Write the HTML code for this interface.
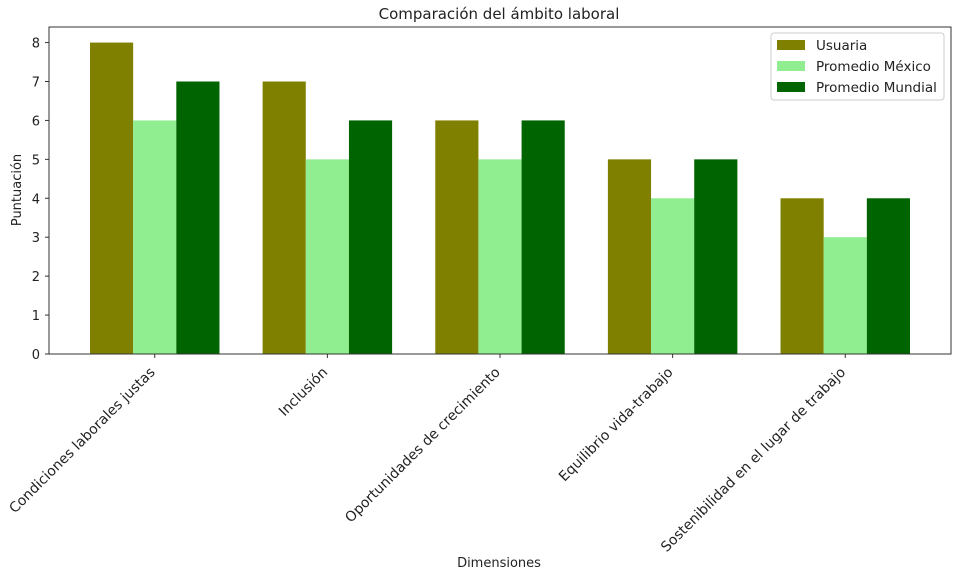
<!DOCTYPE html>
<html><head><meta charset="utf-8"><style>
body{margin:0;background:#fff;font-family:"DejaVu Sans","Liberation Sans",sans-serif;}
svg text{font-family:"DejaVu Sans","Liberation Sans",sans-serif;fill:#222;}
</style></head><body>
<svg id="c" width="956" height="570">
<text x="499" y="19" font-size="15" text-anchor="middle">Comparación del ámbito laboral</text>
<text x="499" y="567" font-size="13" text-anchor="middle">Dimensiones</text>
<text transform="translate(21,190) rotate(-90)" font-size="13" text-anchor="middle">Puntuación</text>
<g id="bars"></g><g id="axes"></g>
<g>
<rect x="771" y="33" width="173" height="67" fill="#fff" stroke="#ccc" rx="3"/>
<rect x="777" y="40" width="28" height="10" fill="#808000"/>
<text x="816" y="50" font-size="13.5">Usuaria</text>
<rect x="777" y="61" width="28" height="10" fill="#90ee90"/>
<text x="816" y="71" font-size="13.5">Promedio México</text>
<rect x="777" y="82" width="28" height="10" fill="#006400"/>
<text x="816" y="92" font-size="13.5">Promedio Mundial</text>
</g>
</svg>
<script>
const categories=["Condiciones laborales justas","Inclusión","Oportunidades de crecimiento","Equilibrio vida-trabajo","Sostenibilidad en el lugar de trabajo"];
const usuaria=[8,7,6,5,4];
const mexico=[6,5,5,4,3];
const mundial=[7,6,6,5,4];
const yTicks=[0,1,2,3,4,5,6,7,8];
const NS="http://www.w3.org/2000/svg";
const L=49,R=951,T=27,B=354;
const xmin=-0.6125,xmax=4.6125,ymax=8.4;
const xs=v=>L+(v-xmin)/(xmax-xmin)*(R-L);
const ys=v=>B-v/ymax*(B-T);
const bars=document.getElementById('bars'),axes=document.getElementById('axes');
function mk(tag,attrs,parent){const e=document.createElementNS(NS,tag);for(const k in attrs)e.setAttribute(k,attrs[k]);parent.appendChild(e);return e;}
const series=[[usuaria,"#808000","usuaria"],[mexico,"#90ee90","mexico"],[mundial,"#006400","mundial"]];
const w=0.25;
series.forEach((s,si)=>{s[0].forEach((v,i)=>{
 const c=i+(si-1)*w;
 const r=mk('rect',{x:xs(c-w/2),y:ys(v),width:xs(c+w/2)-xs(c-w/2),height:ys(0)-ys(v),fill:s[1]},bars);
 
 
});});
const f=mk('rect',{x:L,y:T,width:R-L,height:B-T,fill:'none',stroke:'#333','stroke-width':1},axes);


yTicks.forEach(t=>{
 mk('line',{x1:L-4,x2:L,y1:ys(t),y2:ys(t),stroke:'#333'},axes);
 const tx=mk('text',{x:L-9,y:ys(t)+5,'font-size':13,'text-anchor':'end'},axes);
 tx.textContent=t;
 
 
});
categories.forEach((c,i)=>{
 const x=xs(i);
 mk('line',{x1:x,x2:x,y1:B,y2:B+4,stroke:'#333'},axes);
 const ax=x+1, ay=373;
 const tx=mk('text',{x:ax,y:ay,'font-size':14,'text-anchor':'end',transform:`rotate(-45 ${ax} ${ay})`},axes);
 tx.textContent=c;
 
 
});
</script>
</body></html>
